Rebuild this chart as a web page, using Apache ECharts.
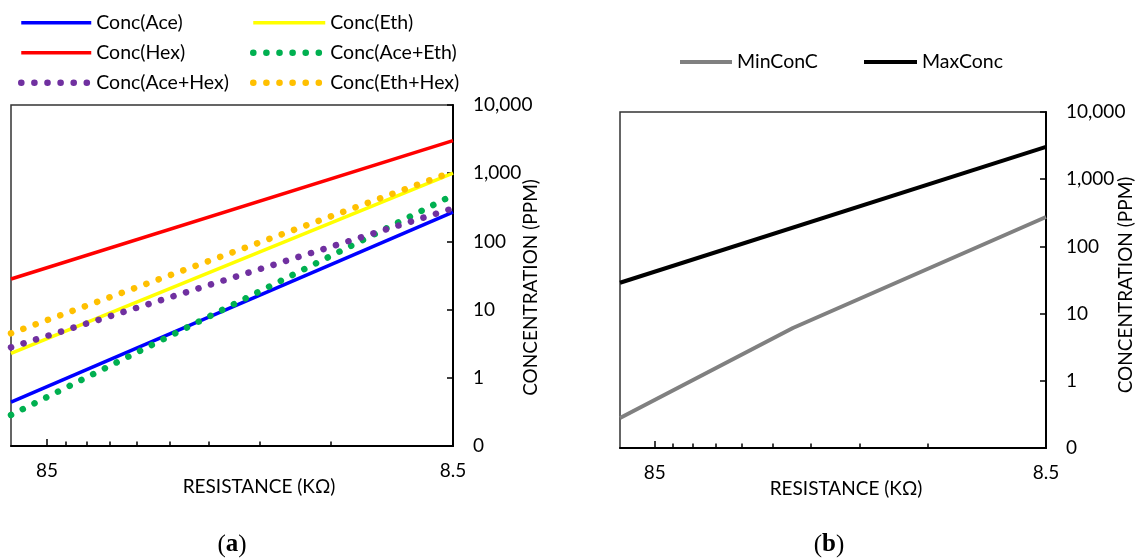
<!DOCTYPE html>
<html>
<head>
<meta charset="utf-8">
<script src="https://cdn.jsdelivr.net/npm/echarts@6/dist/echarts.min.js"></script>
<style>
  html, body { margin: 0; padding: 0; background: #fff; }
  #chart { width: 1136px; height: 558px; }
</style>
</head>
<body>
<div id="chart"></div>
<script>
// Resistance (kΩ) at the two ends of the sweep
const resistance = [104.3, 8.5];
// Concentration (ppm) for each gas / mixture at those resistances
const concAce    = [0.44, 268];
const concEth    = [2.29, 1000];
const concHex    = [28.1, 3000];
const concAceEth = [0.285, 476];
const concAceHex = [2.8, 305];
const concEthHex = [4.49, 1052];

// Envelope curves: min has a break where Ace+Eth crosses Ace
const resistanceMin = [104.3, 37.7, 8.5];
const minConc = [0.28, 6.1, 274];
const maxConc = [28.8, 3030];

// Axis ticks and labels
const xMajorTicks = [85];
const xMinorTicks = [17, 25.5, 34, 42.5, 51, 59.5, 68, 76.5];
const xLabelValues = [85, 8.5];
const xLabelText = ['85', '8.5'];
const yTickValues = [0.1, 1, 10, 100, 1000, 10000];
const yTickLabels = ['0', '1', '10', '100', '1,000', '10,000'];

const FONT = 'Lato, "Noto Sans", sans-serif';
const SERIF = '"Liberation Serif", "DejaVu Serif", serif';
const TXT = '#000';
const FS = 19;

function pairs(xs, ys) { return xs.map((x, i) => [x, ys[i]]); }
function matchIdx(arr, v) {
  return arr.findIndex(t => Math.abs(Math.log10(t) - Math.log10(v)) < 1e-6);
}

function xAxes(gridIndex, nameShift) {
  return [
    {
      type: 'log', logBase: 10, gridIndex, inverse: true,
      min: 8.5, max: 104.3, position: 'bottom',
      name: 'RESISTANCE (KΩ)', nameLocation: 'middle', nameGap: 31,
      nameMoveOverlap: false,
      nameTextStyle: { fontFamily: FONT, fontSize: FS, color: TXT, padding: [0, 0, 0, nameShift] },
      axisLine: { show: true, lineStyle: { color: '#000', width: 2 } },
      axisTick: { show: true, inside: true, length: 7, customValues: xMajorTicks, lineStyle: { color: '#000', width: 1.5 } },
      axisLabel: {
        show: true, margin: 15, customValues: xLabelValues,
        fontFamily: FONT, fontSize: FS, color: TXT,
        formatter: v => xLabelText[matchIdx(xLabelValues, v)] ?? ''
      },
      splitLine: { show: false }, minorTick: { show: false }
    },
    {
      type: 'log', logBase: 10, gridIndex, inverse: true,
      min: 8.5, max: 104.3, position: 'bottom',
      axisLine: { show: false },
      axisTick: { show: true, inside: true, length: 4.5, customValues: xMinorTicks, lineStyle: { color: '#000', width: 1.5 } },
      axisLabel: { show: false },
      splitLine: { show: false }
    }
  ];
}

function yAxis(gridIndex, nameGap, namePad) {
  return {
    type: 'log', logBase: 10, gridIndex, position: 'right',
    min: 0.1, max: 10000,
    name: 'CONCENTRATION (PPM)', nameLocation: 'middle', nameGap, nameRotate: 90,
    nameMoveOverlap: false,
    nameTextStyle: { fontFamily: FONT, fontSize: FS, color: TXT, padding: [0, namePad, 0, 0] },
    axisLine: { show: true, lineStyle: { color: '#000', width: 2 } },
    axisTick: { show: true, inside: true, length: 6, customValues: yTickValues, lineStyle: { color: '#000', width: 1.5 } },
    axisLabel: {
      show: true, margin: 20, customValues: yTickValues,
      fontFamily: FONT, fontSize: FS, color: TXT,
      formatter: v => yTickLabels[matchIdx(yTickValues, v)] ?? ''
    },
    splitLine: { show: false }, minorTick: { show: false }
  };
}

const DOT = [0.1, 13];
function lineSeries(name, data, color, xi, yi, width, dotted) {
  return {
    type: 'line', name, data, xAxisIndex: xi, yAxisIndex: yi,
    symbol: 'none', showSymbol: false, silent: true, animation: false,
    lineStyle: dotted
      ? { color, width: 6.5, type: DOT, cap: 'round' }
      : { color, width, cap: 'butt' },
    itemStyle: { color }
  };
}

const legendText = { fontFamily: FONT, fontSize: 19.5, color: TXT, lineHeight: 20 };
// Legend swatches show only the series line (no marker), at the series' own width and dash
const legendCommon = {
  selectedMode: false,
  padding: 0,
  textStyle: legendText,
  itemStyle: { opacity: 0 },
  lineStyle: { width: 'inherit', type: 'inherit', cap: 'inherit' }
};

const option = {
  backgroundColor: '#fff',
  animation: false,
  grid: [
    { left: 11, top: 105, width: 442, height: 341, show: true, borderColor: '#333', borderWidth: 1.5, outerBoundsMode: 'none', containLabel: false },
    { left: 620, top: 112, width: 426, height: 336, show: true, borderColor: '#333', borderWidth: 1.5, outerBoundsMode: 'none', containLabel: false }
  ],
  xAxis: [...xAxes(0, 54), ...xAxes(1, 26)],
  yAxis: [yAxis(0, 68, 24), yAxis(1, 70, 10)],
  legend: [
    Object.assign({
      orient: 'vertical', left: 18, top: 12.7, itemWidth: 70, itemHeight: 14, itemGap: 10,
      data: ['Conc(Ace)', 'Conc(Hex)', 'Conc(Ace+Hex)']
    }, legendCommon),
    Object.assign({
      orient: 'vertical', left: 250, top: 12.7, itemWidth: 72, itemHeight: 14, itemGap: 10,
      data: ['Conc(Eth)', 'Conc(Ace+Eth)', 'Conc(Eth+Hex)']
    }, legendCommon),
    Object.assign({
      left: 678, top: 52, itemWidth: 52, itemHeight: 14, data: ['MinConC']
    }, legendCommon),
    Object.assign({
      left: 862, top: 52, itemWidth: 53, itemHeight: 14, data: ['MaxConc']
    }, legendCommon)
  ],
  series: [
    lineSeries('Conc(Ace)', pairs(resistance, concAce), '#0000FF', 0, 0, 3.5, false),
    lineSeries('Conc(Eth)', pairs(resistance, concEth), '#FFFF00', 0, 0, 3.5, false),
    lineSeries('Conc(Hex)', pairs(resistance, concHex), '#FF0000', 0, 0, 3.5, false),
    lineSeries('Conc(Ace+Eth)', pairs(resistance, concAceEth), '#00B050', 0, 0, 6, true),
    lineSeries('Conc(Ace+Hex)', pairs(resistance, concAceHex), '#7030A0', 0, 0, 6, true),
    lineSeries('Conc(Eth+Hex)', pairs(resistance, concEthHex), '#FFC000', 0, 0, 6, true),
    lineSeries('MinConC', pairs(resistanceMin, minConc), '#808080', 2, 1, 4, false),
    lineSeries('MaxConc', pairs(resistance, maxConc), '#000000', 2, 1, 4, false)
  ],
  graphic: [
    {
      type: 'text', x: 232, y: 545,
      style: {
        text: '{p|(}{b|a}{p|)}', textAlign: 'center', textVerticalAlign: 'middle',
        rich: {
          p: { fontFamily: SERIF, fontSize: 25, color: '#000' },
          b: { fontFamily: SERIF, fontSize: 25, fontWeight: 'bold', color: '#000' }
        }
      }
    },
    {
      type: 'text', x: 829, y: 545,
      style: {
        text: '{p|(}{b|b}{p|)}', textAlign: 'center', textVerticalAlign: 'middle',
        rich: {
          p: { fontFamily: SERIF, fontSize: 25, color: '#000' },
          b: { fontFamily: SERIF, fontSize: 25, fontWeight: 'bold', color: '#000' }
        }
      }
    }
  ]
};

const chart = echarts.init(document.getElementById('chart'), null, { renderer: 'canvas', width: 1136, height: 558 });
chart.setOption(option);
</script>
</body>
</html>
